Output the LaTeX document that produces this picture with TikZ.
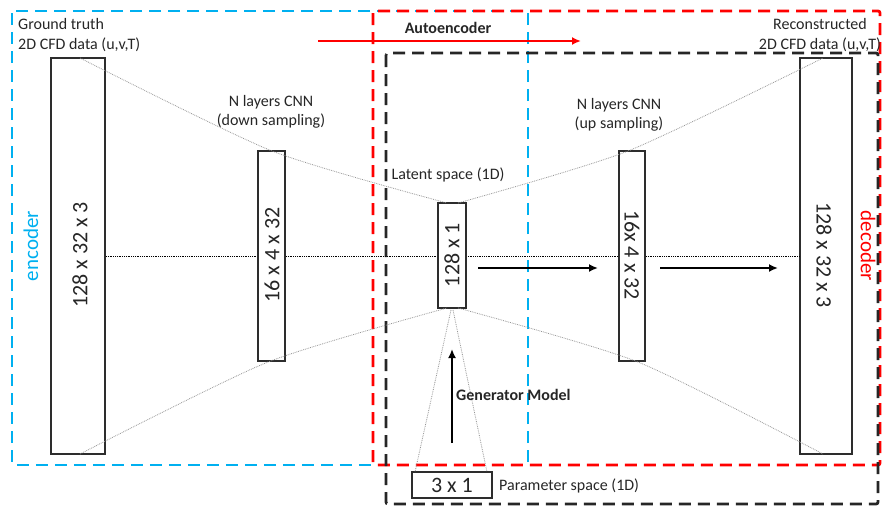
\documentclass[tikz,border=0pt]{standalone}
\usepackage{fontspec}
\setmainfont{Carlito}
\usetikzlibrary{arrows.meta}
\definecolor{encblue}{RGB}{0,176,240}
\definecolor{decred}{RGB}{255,0,0}
\definecolor{txt}{RGB}{38,38,38}
\definecolor{boxline}{RGB}{45,45,45}
\definecolor{funnel}{RGB}{150,150,150}
\begin{document}
\begin{tikzpicture}[x=1pt,y=-1pt,
  region/.style={line width=2.8pt, dash pattern=on 12pt off 7pt, rounded corners=2pt},
  layerbox/.style={draw=boxline, line width=1.8pt, fill=white, inner sep=0pt},
  boxlabel/.style={text=txt, font=\fontsize{22}{26}\selectfont, inner sep=0pt},
  smalllabel/.style={text=txt, font=\fontsize{16}{19.5}\selectfont, inner sep=0pt},
  boldlabel/.style={text=txt, font=\fontsize{16}{19.5}\selectfont\bfseries, inner sep=0pt},
  funnelline/.style={draw=funnel, line width=0.8pt, densely dotted},
  flowarrow/.style={draw=black, line width=2.2pt, -{Latex[length=9pt,width=8pt]}},
]
\useasboundingbox (0,0) rectangle (882,506);

% regions
\draw[region, draw=encblue] (12,11) rectangle (528,465);
\draw[region, draw=decred] (373,11) rectangle (880,465);
\draw[region, draw=black!85] (386,53) rectangle (878,504);

% layer boxes (shapes)
\node[layerbox, minimum width=54pt, minimum height=396pt] (A) at (78,256) {};
\node[layerbox, minimum width=52pt, minimum height=396pt] (E) at (826,256) {};

% centre dotted line
\draw[black, line width=0.8pt, densely dotted] (A.east) -- (E.west);

\node[layerbox, minimum width=27pt, minimum height=210pt] (B) at (271.5,256) {};
\node[layerbox, minimum width=28pt, minimum height=105pt] (C) at (452,255.5) {};
\node[layerbox, minimum width=26pt, minimum height=210pt] (D) at (632,256) {};
\node[layerbox, minimum width=80pt, minimum height=26pt] (F) at (452,485) {};

% coordinates for funnel lines
\coordinate (tl1) at (80,58);
\coordinate (tl2) at (272,151);
\coordinate (tl3) at (447,203);
\coordinate (tr1) at (458,203);
\coordinate (tr2) at (628,151);
\coordinate (tr3) at (823,58);
\coordinate (bl1) at (80,454);
\coordinate (bl2) at (268,362);
\coordinate (bl3) at (447,308);
\coordinate (br1) at (458,308);
\coordinate (br2) at (638,362);
\coordinate (br3) at (823,454);
\coordinate (g0l) at (451,310);
\coordinate (g0r) at (453,310);
\coordinate (g1) at (415,472);
\coordinate (g2) at (487,472);

\draw[funnelline] plot[smooth, tension=0.4] coordinates {(tl1) (tl2) (tl3)};
\draw[funnelline] plot[smooth, tension=0.4] coordinates {(tr1) (tr2) (tr3)};
\draw[funnelline] plot[smooth, tension=0.4] coordinates {(bl1) (bl2) (bl3)};
\draw[funnelline] plot[smooth, tension=0.4] coordinates {(br1) (br2) (br3)};
\draw[funnelline] (g0l) -- (g1);
\draw[funnelline] (g0r) -- (g2);

% box labels
\node[boxlabel, rotate=90] (Alab) at (80,255) {128 x 32 x 3};
\node[boxlabel, rotate=90] (Blab) at (272,255) {16 x 4 x 32};
\node[boxlabel, rotate=90] (Clab) at (452,255) {128 x 1};
\node[boxlabel, rotate=-90] (Dlab) at (632,255) {16x 4 x 32};
\node[boxlabel, rotate=-90] (Elab) at (824,255) {128 x 32 x 3};
\node[boxlabel] (Flab) at (F.center) {3 x 1};

% region labels
\node[text=encblue, font=\fontsize{21}{25}\selectfont, rotate=90, inner sep=0pt] (enc) at (31,246) {encoder};
\node[text=decred, font=\fontsize{21}{25}\selectfont, rotate=-90, inner sep=0pt] (dec) at (868,246) {decoder};

% text labels
\node[smalllabel, align=left, anchor=west] (gt) at (18,35) {Ground truth\\2D CFD data (u,v,T)};
\node[smalllabel, align=center] (down) at (271,112) {N layers CNN\\(down sampling)};
\node[smalllabel] (lat) at (448,175) {Latent space (1D)};
\node[smalllabel, align=center] (up) at (619,115) {N layers CNN\\(up sampling)};
\node[smalllabel, align=center] (rec) at (820,35) {Reconstructed\\2D CFD data (u,v,T)};
\node[boldlabel] (ae) at (448,28) {Autoencoder};
\node[boldlabel, anchor=west] (gen) at (456,395) {Generator Model};
\node[smalllabel, anchor=west] (par) at (499,486) {Parameter space (1D)};

% arrows
\coordinate (ra1) at (318,41);
\coordinate (ra2) at (581,41);
\draw[flowarrow, draw=decred, color=decred] (ra1) -- (ra2);
\coordinate (a1s) at (478,268);
\coordinate (a1e) at (598,268);
\coordinate (a2s) at (660,268);
\coordinate (a2e) at (778,268);
\draw[flowarrow] (a1s) -- (a1e);
\draw[flowarrow] (a2s) -- (a2e);
\coordinate (gs) at (452,443);
\coordinate (ge) at (452,349);
\draw[flowarrow] (gs) -- (ge);
\end{tikzpicture}
\end{document}
